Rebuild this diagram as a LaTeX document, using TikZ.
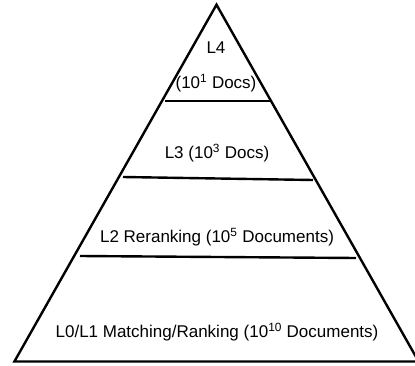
\documentclass[tikz,border=0pt]{standalone}
\usepackage{fontspec}
\setmainfont{Liberation Sans}
\usetikzlibrary{calc}

\begin{document}
\begin{tikzpicture}[x=1pt, y=1pt, line width=2.4pt, line join=miter,
  lvl/.style={font=\fontsize{17}{20}\selectfont, inner sep=0pt}]
  \useasboundingbox (0,0) rectangle (415,365);
  % apex on top, base runs a bit past the right edge
  \coordinate (top) at (216.5,360.3);
  \coordinate (bl) at (14.4,3.5);
  \coordinate (br) at (418.6,3.5);
  \draw (bl) -- (top) -- (br) -- cycle;
  % level separators
  \draw (165,264) -- (270,264);
  \draw (123,188) -- (313,185);
  \draw (80,109) -- (356,107);
  \node[lvl] (l4) at (216,317) {L4};
  \node[lvl] (l4docs) at (216,282) {(10\textsuperscript{1} Docs)};
  \node[lvl] (l3) at (217,212) {L3 (10\textsuperscript{3} Docs)};
  \node[lvl] (l2) at (217,128) {L2 Reranking (10\textsuperscript{5} Documents)};
  \node[lvl] (l01) at (217,33) {L0/L1 Matching/Ranking (10\textsuperscript{10} Documents)};
\end{tikzpicture}
\end{document}
